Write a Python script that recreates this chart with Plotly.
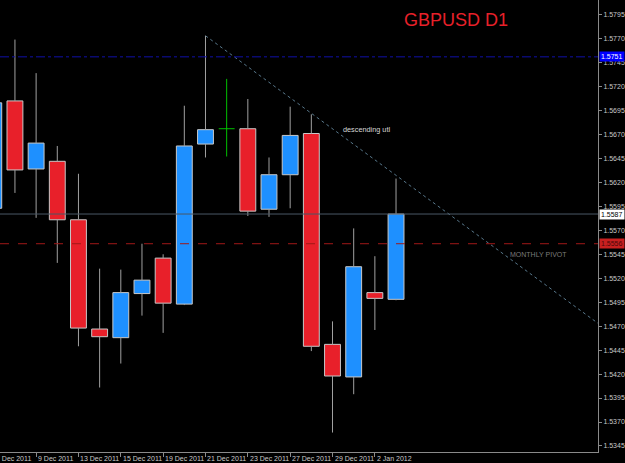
import plotly.graph_objects as go

# ---- data ----
dates = ["7 Dec 2011", "8 Dec 2011", "9 Dec 2011", "12 Dec 2011", "13 Dec 2011",
         "14 Dec 2011", "15 Dec 2011", "16 Dec 2011", "19 Dec 2011", "20 Dec 2011",
         "21 Dec 2011", "22 Dec 2011", "23 Dec 2011", "26 Dec 2011", "27 Dec 2011",
         "28 Dec 2011", "29 Dec 2011", "30 Dec 2011", "2 Jan 2012", "3 Jan 2012"]
opens = [1.5593, 1.5705, 1.5634, 1.5642, 1.5581, 1.5467, 1.5458, 1.5504, 1.5541, 1.5493,
         1.5660, 1.5676, 1.5676, 1.5592, 1.5628, 1.5671, 1.5451, 1.5417, 1.5505, 1.5498]
highs = [1.5720, 1.5769, 1.5734, 1.5658, 1.5629, 1.5530, 1.5529, 1.5556, 1.5545, 1.5700,
         1.5773, 1.5728, 1.5707, 1.5646, 1.5699, 1.5691, 1.5475, 1.5572, 1.5543, 1.5624]
lows = [1.5585, 1.5609, 1.5583, 1.5536, 1.5449, 1.5406, 1.5431, 1.5481, 1.5463, 1.5492,
        1.5646, 1.5647, 1.5585, 1.5584, 1.5593, 1.5444, 1.5359, 1.5399, 1.5466, 1.5497]
closes = [1.5703, 1.5633, 1.5661, 1.5581, 1.5468, 1.5459, 1.5505, 1.5518, 1.5494, 1.5658,
          1.5675, 1.5676, 1.5590, 1.5628, 1.5669, 1.5449, 1.5418, 1.5532, 1.5499, 1.5587]

date_tick_labels = ["7 Dec 2011", "9 Dec 2011", "13 Dec 2011", "15 Dec 2011", "19 Dec 2011",
                    "21 Dec 2011", "23 Dec 2011", "27 Dec 2011", "29 Dec 2011", "2 Jan 2012"]
price_ticks = [1.5345, 1.5370, 1.5395, 1.5420, 1.5445, 1.5470, 1.5495, 1.5520, 1.5545,
               1.5570, 1.5595, 1.5620, 1.5645, 1.5670, 1.5695, 1.5720, 1.5745, 1.5770, 1.5795]
price_tick_labels = ["1.5345", "1.5370", "1.5395", "1.5420", "1.5445", "1.5470", "1.5495",
                     "1.5520", "1.5545", "1.5570", "1.5595", "1.5620", "1.5645", "1.5670",
                     "1.5695", "1.5720", "1.5745", "1.5770", "1.5795"]

upper_level = 1.5751
bid_price = 1.5587
pivot_level = 1.5556
trend_x = [10, 28.6]          # 21 Dec high -> beyond right edge (candle index)
trend_y = [1.5773, 1.5472]

# ---- styling ----
RED = "#e8202a"
BLUE = "#1e90ff"
DOJI = "#00c000"
WICK = "#a0a0a0"
AX = "#8a8a8a"
TXT = "#c8c8c8"
FONT = "Liberation Sans, Arial, sans-serif"
X_RANGE = [0.294, 28.54]

idx = list(range(len(dates)))
fig = go.Figure()

# wicks (gray) for non-doji candles, green cross for doji
wx, wy = [], []
dx, dy = [], []
for i, o, h, l, c in zip(idx, opens, highs, lows, closes):
    if o == c:
        dx += [i, i, None, i - 0.375, i + 0.375, None]
        dy += [h, l, None, o, o, None]
    else:
        top, bot = max(o, c), min(o, c)
        wx += [i, i, None, i, i, None]
        wy += [h, top, None, bot, l, None]

fig.add_trace(go.Scatter(x=wx, y=wy, mode="lines", line=dict(color=WICK, width=1),
                         hoverinfo="skip", showlegend=False))

body_idx = [i for i in idx if opens[i] != closes[i]]
fig.add_trace(go.Bar(
    x=body_idx,
    y=[abs(closes[i] - opens[i]) for i in body_idx],
    base=[min(opens[i], closes[i]) for i in body_idx],
    width=0.75,
    marker=dict(color=[BLUE if closes[i] > opens[i] else RED for i in body_idx],
                line=dict(color="#c8c8c8", width=1)),
    hoverinfo="skip", showlegend=False))

fig.add_trace(go.Scatter(x=dx, y=dy, mode="lines", line=dict(color=DOJI, width=1),
                         hoverinfo="skip", showlegend=False))

# descending trendline
fig.add_trace(go.Scatter(x=trend_x, y=trend_y, mode="lines",
                         line=dict(color="#58788c", width=1, dash="dot"),
                         hoverinfo="skip", showlegend=False))

shapes = [
    dict(type="line", xref="paper", x0=0, x1=1, yref="y", y0=upper_level, y1=upper_level,
         line=dict(color="#1010a8", width=1, dash="dashdot"), layer="above"),
    dict(type="line", xref="paper", x0=0, x1=1, yref="y", y0=bid_price, y1=bid_price,
         line=dict(color="#4a5866", width=1), layer="above"),
    dict(type="line", xref="paper", x0=0, x1=1, yref="y", y0=pivot_level, y1=pivot_level,
         line=dict(color="#a01818", width=1, dash="dash"), layer="above"),
]

annotations = []
for lab in date_tick_labels:
    pos = (dates.index(lab) - X_RANGE[0]) / (X_RANGE[1] - X_RANGE[0])
    annotations.append(dict(x=pos, xref="paper", y=0, yref="paper",
                            xanchor="left", yanchor="top", yshift=-1, text=lab,
                            showarrow=False, font=dict(family=FONT, size=7, color=TXT)))

annotations += [
    dict(x=403 / 600, xref="paper", y=1 - 20.5 / 452, yref="paper", xanchor="left",
         yanchor="middle", text="GBPUSD D1", showarrow=False,
         font=dict(family=FONT, size=18, color="#e8202a")),
    dict(x=342 / 600, xref="paper", y=1 - 129.7 / 452, yref="paper", xanchor="left",
         yanchor="middle", text="descending utl", showarrow=False,
         font=dict(family=FONT, size=7.3, color="#d8d8d8")),
    dict(x=510 / 600, xref="paper", y=1 - 254 / 452, yref="paper", xanchor="left",
         yanchor="middle", text="MONTHLY PIVOT", showarrow=False,
         font=dict(family=FONT, size=7, color="#7a7a7a")),
    dict(x=1, xref="paper", y=upper_level, yref="y", xanchor="left", yanchor="middle",
         xshift=1, text=f"{upper_level:.4f}", showarrow=False, bgcolor="#0000ff",
         borderpad=1, font=dict(family=FONT, size=7, color="#ffffff")),
    dict(x=1, xref="paper", y=bid_price, yref="y", xanchor="left", yanchor="middle",
         xshift=1, text=f"{bid_price:.4f}", showarrow=False, bgcolor="#ffffff",
         borderpad=1, font=dict(family=FONT, size=7, color="#000000")),
    dict(x=1, xref="paper", y=pivot_level, yref="y", xanchor="left", yanchor="middle",
         xshift=1, text=f"{pivot_level:.4f}", showarrow=False, bgcolor="#c82020",
         borderpad=1, font=dict(family=FONT, size=7, color="#4a0808")),
]

fig.update_layout(
    width=625, height=463,
    margin=dict(l=0, r=25, t=0, b=11),
    paper_bgcolor="#000000", plot_bgcolor="#000000",
    showlegend=False, hovermode=False,
    shapes=shapes, annotations=annotations,
    xaxis=dict(range=X_RANGE, showgrid=False, zeroline=False,
               showline=True, linecolor=AX, linewidth=1,
               tickmode="array", tickvals=[dates.index(l) for l in date_tick_labels],
               ticks="outside", ticklen=4, tickcolor=AX, showticklabels=False),
    yaxis=dict(range=[1.53387, 1.58103], side="right", showgrid=False, zeroline=False,
               showline=True, linecolor=AX, linewidth=1,
               tickmode="array", tickvals=price_ticks, ticktext=price_tick_labels,
               ticks="outside", ticklen=3, tickcolor=AX,
               tickfont=dict(family=FONT, size=7, color=TXT)),
)

fig.write_html("out.html")
